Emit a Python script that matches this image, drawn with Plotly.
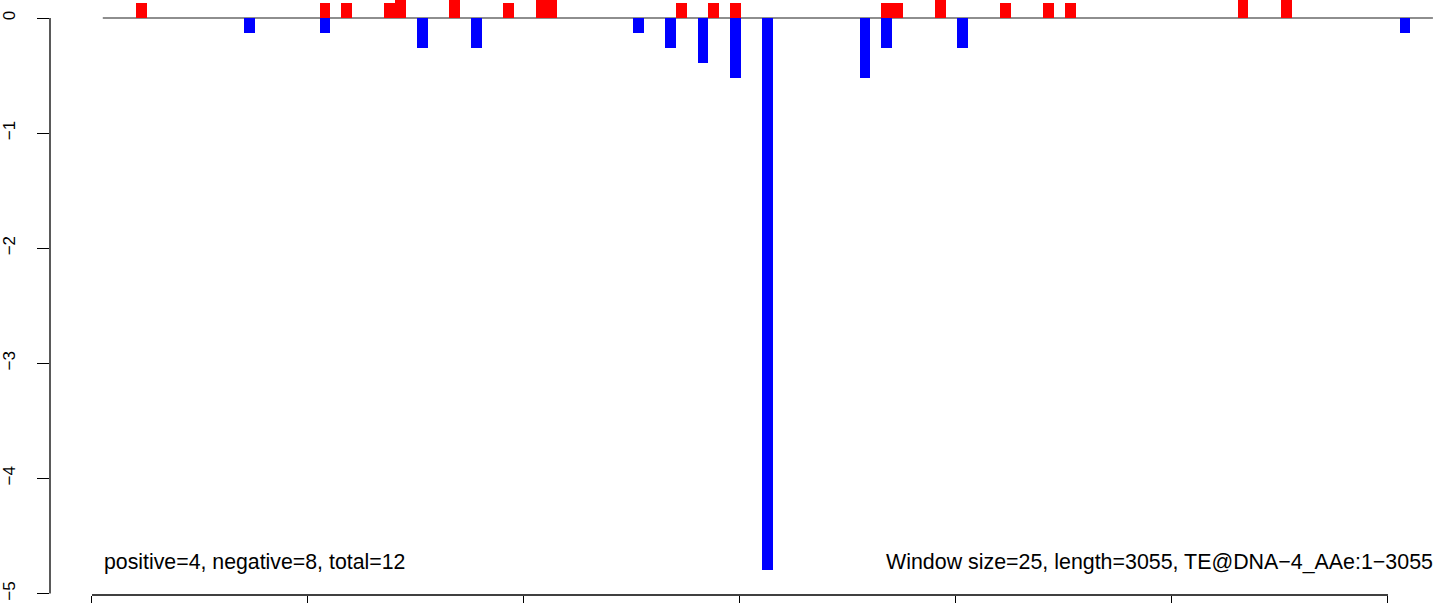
import plotly.graph_objects as go

# Window starts (bp) and scores
window_size = 25
pos_starts = [100, 525, 575, 675, 700, 825, 950, 1025, 1050, 1350, 1425, 1475,
              1825, 1850, 1950, 2100, 2200, 2250, 2650, 2750]
pos_values = [0.13, 0.13, 0.13, 0.13, 0.26, 0.26, 0.13, 0.26, 0.26, 0.13, 0.13, 0.13,
              0.13, 0.13, 0.26, 0.13, 0.13, 0.13, 0.26, 0.26]
neg_starts = [350, 525, 750, 875, 1250, 1325, 1400, 1475, 1550, 1775, 1825, 2000, 3025]
neg_values = [-0.13, -0.13, -0.26, -0.26, -0.13, -0.26, -0.39, -0.52, -4.8, -0.52,
              -0.26, -0.26, -0.13]

x_tick_vals = [0, 500, 1000, 1500, 2000, 2500, 3000]
y_tick_vals = [0, -1, -2, -3, -4, -5]
y_tick_text = ["0", "\u22121", "\u22122", "\u22123", "\u22124", "\u22125"]

left_text = "positive=4, negative=8, total=12"
right_text = "Window size=25, length=3055, TE@DNA\u22124_AAe:1\u22123055"

FONT = "Liberation Sans, Arial, Helvetica, sans-serif"
half = window_size / 2 + 2

fig = go.Figure()
fig.add_trace(go.Bar(x=[s + half for s in pos_starts], y=pos_values, width=window_size,
                     marker=dict(color="#FF0000", line=dict(width=0)), showlegend=False))
fig.add_trace(go.Bar(x=[s + half for s in neg_starts], y=neg_values, width=window_size,
                     marker=dict(color="#0000FF", line=dict(width=0)), showlegend=False))

# zero reference line (below bars)
fig.add_shape(type="line", xref="x", yref="y", x0=25, x1=3104, y0=0, y1=0,
              line=dict(color="#8e8e8e", width=2), layer="below")
# y axis line from 0 to -5
fig.add_shape(type="line", xref="paper", yref="y", x0=0, x1=0, y0=0, y1=-5,
              line=dict(color="black", width=1.3))
# x axis line from 0 to 3000
fig.add_shape(type="line", xref="x", yref="paper", x0=0, x1=3000, y0=0, y1=0,
              line=dict(color="black", width=1.3))

fig.add_annotation(x=24, y=-4.73, xref="x", yref="y", text=left_text, showarrow=False,
                   xanchor="left", yanchor="middle", font=dict(family=FONT, size=21.3, color="black"))
fig.add_annotation(x=1, y=-4.73, xref="paper", yref="y", text=right_text, showarrow=False,
                   xanchor="right", yanchor="middle", xshift=2,
                   font=dict(family=FONT, size=21.4, color="black"))

fig.update_layout(
    width=1444, height=603,
    margin=dict(l=50, r=11, t=0, b=8, autoexpand=False),
    plot_bgcolor="white", paper_bgcolor="white",
    barmode="overlay", bargap=0,
    font=dict(family=FONT, color="black"),
    xaxis=dict(range=[-97.2, 3104.2], tickvals=x_tick_vals, ticks="outside", ticklen=14,
               tickcolor="black", tickwidth=1.3, showticklabels=False, showline=False,
               showgrid=False, zeroline=False, automargin=False),
    yaxis=dict(range=[-5.013, 0.1564], tickvals=y_tick_vals, ticktext=y_tick_text,
               ticks="outside", ticklen=12, tickcolor="black", tickwidth=1.3, tickangle=-90,
               showline=False, showgrid=False, zeroline=False, automargin=False,
               ticklabelstandoff=15, tickfont=dict(size=17, family=FONT)),
)

fig.write_html("out.html", config={"displayModeBar": False},
               post_script="document.body.style.margin='0';document.body.style.padding='0';")
